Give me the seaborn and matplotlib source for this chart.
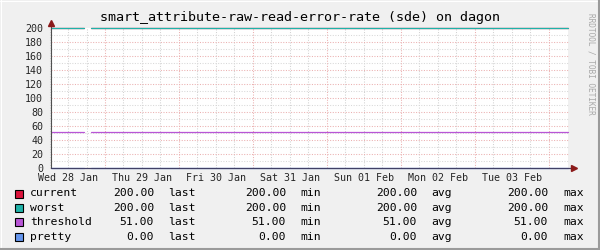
import matplotlib
matplotlib.use("Agg")
import matplotlib.pyplot as plt
from matplotlib.patches import Rectangle
from matplotlib.lines import Line2D
import seaborn as sns
import pandas as pd

# ---- data ----
title = "smart_attribute-raw-read-error-rate (sde) on dagon"
series_names = ["current", "worst", "threshold", "pretty"]
series_colors = ["#DC143C", "#1FB2A8", "#B855D6", "#6495ED"]
# time in days since Wed 28 Jan 00:00; gap between the two segments
times = [0.27, 0.72, 0.81, 7.26]
segments = [0, 0, 1, 1]
current = [200, 200, 200, 200]
worst = [200, 200, 200, 200]
threshold = [51, 51, 51, 51]
pretty = [0, 0, 0, 0]
x_tick_pos = [0.5, 1.5, 2.5, 3.5, 4.5, 5.5, 6.5]
x_tick_labels = ["Wed 28 Jan", "Thu 29 Jan", "Fri 30 Jan", "Sat 31 Jan",
                 "Sun 01 Feb", "Mon 02 Feb", "Tue 03 Feb"]
y_ticks = [0, 20, 40, 60, 80, 100, 120, 140, 160, 180, 200]
leg_last = ["200.00", "200.00", "51.00", "0.00"]
leg_min = ["200.00", "200.00", "51.00", "0.00"]
leg_avg = ["200.00", "200.00", "51.00", "0.00"]
leg_max = ["200.00", "200.00", "51.00", "0.00"]
x_min, x_max = 0.27, 7.26
y_min, y_max = 0, 200

rows = []
for name, vals in zip(series_names, [current, worst, threshold, pretty]):
    for t, s, v in zip(times, segments, vals):
        rows.append({"t": t, "v": v, "series": name, "segment": s})
df = pd.DataFrame(rows)

sns.set_style("white")
MONO = ["DejaVu Sans Mono"]
plt.rcParams["font.family"] = MONO

W, H = 600, 250
fig = plt.figure(figsize=(6, 2.5), dpi=100, facecolor="#F0F0F0")

def fx(px):
    return px / W

def fy(py):
    return 1 - py / H

# frame shading
fig.add_artist(Line2D([0, 1], [fy(0.5), fy(0.5)], color="#FFFFFF", lw=0.8))
fig.add_artist(Line2D([fx(0.5), fx(0.5)], [0, 1], color="#FFFFFF", lw=0.8))
fig.add_artist(Line2D([0, 1], [fy(249), fy(249)], color="#9A9A9A", lw=1.5))
fig.add_artist(Line2D([fx(599), fx(599)], [0, 1], color="#9A9A9A", lw=1.5))

left, right, top, bottom = 51, 568, 28, 168
ax = fig.add_axes([fx(left), fy(bottom), fx(right - left), (bottom - top) / H])
ax.set_facecolor("white")

# grid
for d in range(1, 8):
    ax.axvline(d, color="#EBB0B0", lw=0.75, ls=(0, (1, 1.5)), zorder=1)
for q in range(1, 29):
    if q % 4 != 0:
        ax.axvline(q * 0.25, color="#D2D2D2", lw=0.75, ls=(0, (1, 1.5)), zorder=0.9)
for yv in range(10, 200, 10):
    if yv % 20 == 0:
        ax.axhline(yv, color="#EBB0B0", lw=0.75, ls=(0, (1, 1.5)), zorder=1)
    else:
        ax.axhline(yv, color="#D8D8D8", lw=0.75, ls=(0, (1, 1.5)), zorder=0.9)

sns.lineplot(data=df, x="t", y="v", hue="series", hue_order=series_names,
             palette=dict(zip(series_names, series_colors)), units="segment",
             estimator=None, legend=False, linewidth=0.9, ax=ax)
for ln in ax.get_lines():
    ln.set_clip_on(False)

ax.set_xlim(x_min, x_max)
ax.set_ylim(y_min, y_max)
ax.set_xlabel("")
ax.set_ylabel("")
for s in ax.spines.values():
    s.set_visible(False)

ax.set_xticks(x_tick_pos)
ax.set_xticklabels(x_tick_labels, fontsize=7.2, family=MONO)
ax.tick_params(axis="x", length=0, pad=3.5)
ax.set_yticks(y_ticks)
ax.set_yticklabels([str(v) for v in y_ticks], fontsize=7.2, family=MONO)
ax.tick_params(axis="y", length=2.2, width=0.7, color="#555555", pad=3.5)

# axes with arrows
ax.plot([0, 0], [0, 1.03], transform=ax.transAxes, color="#505050", lw=0.8,
        clip_on=False, zorder=5)
ax.plot([0, 1.008], [0, 0], transform=ax.transAxes, color="#404066", lw=0.9,
        clip_on=False, zorder=5)
ax.plot([0], [1.035], marker="^", ms=4, color="#8B1A1A", transform=ax.transAxes,
        clip_on=False, zorder=6)
ax.plot([1.011], [0], marker=">", ms=4, color="#8B1A1A", transform=ax.transAxes,
        clip_on=False, zorder=6)

# title and watermark
fig.text(0.5, fy(18), title, ha="center", va="center", fontsize=9.6,
         family=MONO, color="#000000")
fig.text(fx(591), fy(64), "RRDTOOL / TOBI OETIKER", rotation=270,
         ha="center", va="center", fontsize=5.6, family=MONO, color="#A8A8A8")

# legend table
row_y = [193.5, 208, 222, 236.5]
for i, name in enumerate(series_names):
    yy = row_y[i]
    fig.add_artist(Rectangle((fx(15), fy(yy + 4)), fx(8), 8 / H,
                             facecolor=series_colors[i], edgecolor="black", lw=0.8))
    kw = dict(va="center", fontsize=8.2, family=MONO, color="black")
    fig.text(fx(30), fy(yy), name, ha="left", **kw)
    fig.text(fx(154), fy(yy), leg_last[i], ha="right", **kw)
    fig.text(fx(168), fy(yy), "last", ha="left", **kw)
    fig.text(fx(286), fy(yy), leg_min[i], ha="right", **kw)
    fig.text(fx(300), fy(yy), "min", ha="left", **kw)
    fig.text(fx(417), fy(yy), leg_avg[i], ha="right", **kw)
    fig.text(fx(431), fy(yy), "avg", ha="left", **kw)
    fig.text(fx(548), fy(yy), leg_max[i], ha="right", **kw)
    fig.text(fx(563), fy(yy), "max", ha="left", **kw)

fig.savefig("out.png", dpi=100, facecolor=fig.get_facecolor())
